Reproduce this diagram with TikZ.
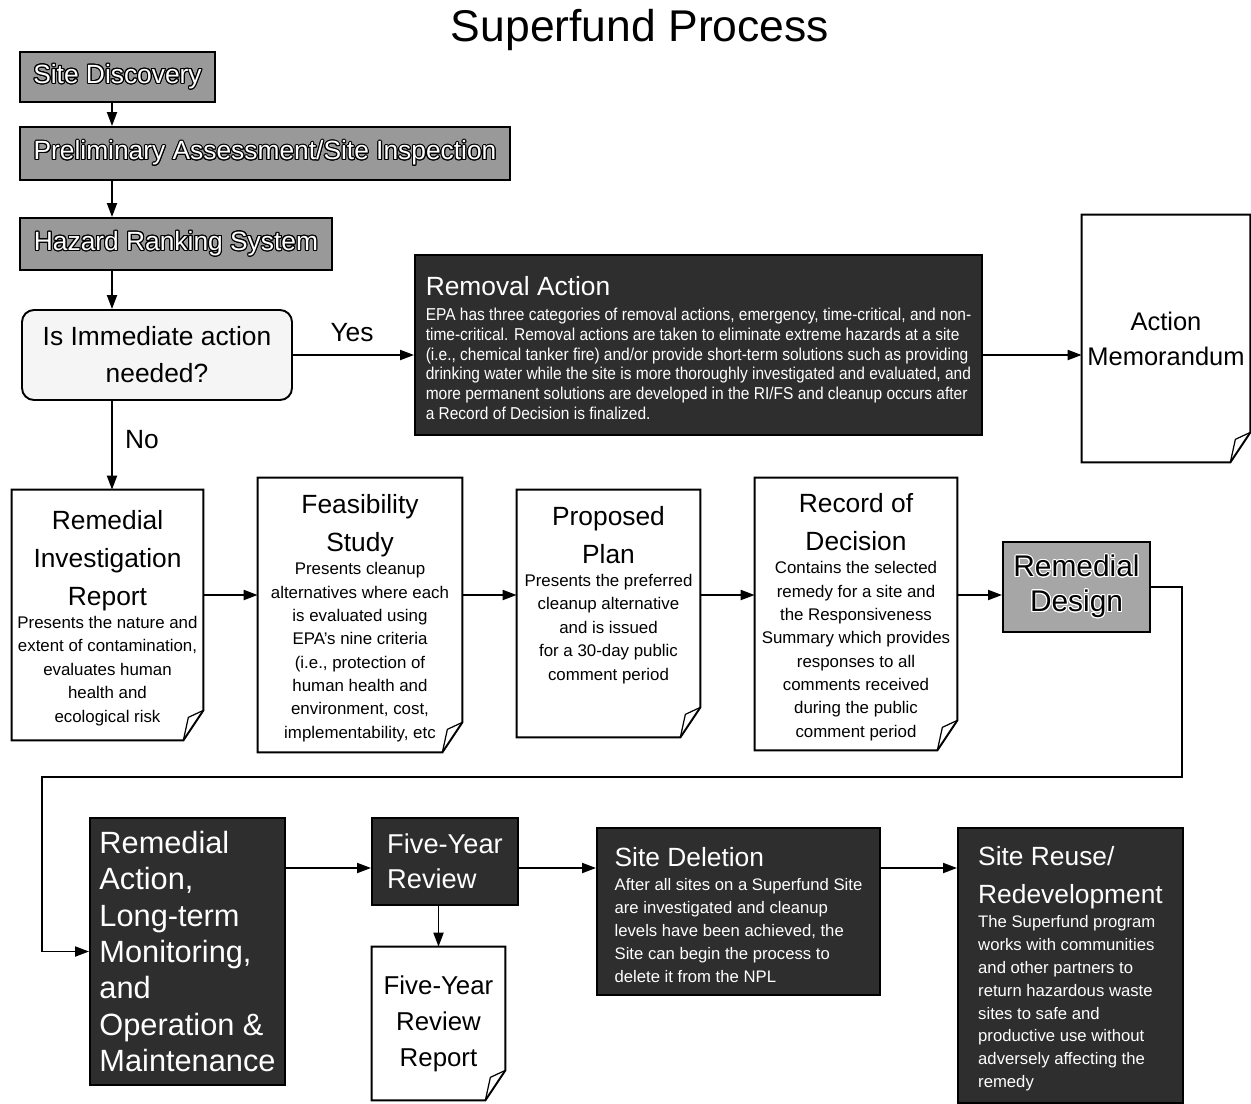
\documentclass[tikz,border=0pt]{standalone}
\usepackage{fontspec}
\setmainfont{Liberation Sans}
\newfontfamily\narrowfont[FakeStretch=0.9]{Liberation Sans}
\usepackage{tikz}
\usetikzlibrary{calc}
\usetikzlibrary{arrows.meta}
\usepackage{contour}
\contourlength{0.6pt}

\newlength{\px}
\setlength{\px}{0.02cm}

\newcommand{\hugesize}{\fontsize{25.3}{30}\selectfont}
\newcommand{\headsize}{\fontsize{15}{20.5}\selectfont}
\newcommand{\docsize}{\fontsize{9.6}{13.3}\selectfont}
\newcommand{\wout}[1]{\contour{black}{#1}}
\newcommand{\bout}[1]{\contour{white}{#1}}
\newcommand{\hd}[1]{{\normalfont\headsize\strut #1}}

% sheet of paper with a folded corner round a node
\newcommand{\docpaper}[1]{%
  \draw[thickline] (#1.north west) -- (#1.north east) -- ($(#1.south east)+(0,-30)$)
    -- ($(#1.south east)+(-20,0)$) -- (#1.south west) -- cycle;
  \draw[line width=0.7pt] ($(#1.south east)+(0,-30)$) -- ($(#1.south east)+(-15,-23)$)
    -- ($(#1.south east)+(-20,0)$);
}

\tikzset{
  thickline/.style={line width=1.1pt},
  flow/.style={thickline, -{Triangle[length=0.28cm,width=0.2cm]}},
  boxdim/.style 2 args={minimum width=#1\px, minimum height=#2\px},
  greybox/.style={draw, thickline, fill=black!40, text=white, inner sep=0pt, font=\headsize},
  darkbox/.style={draw, thickline, fill=black!82, text=white, inner sep=0pt},
  decision/.style={draw, thickline, rounded corners=12\px, fill=black!4, inner sep=0pt,
    align=center, font=\fontsize{15}{21}\selectfont},
  paper/.style={inner sep=0pt, align=center, font=\docsize},
  yesno/.style={font=\headsize},
}

\begin{document}
\begin{tikzpicture}
    [x=0.02cm,y=-0.02cm]

    \useasboundingbox (0,0) rectangle (1251,1103);

    \coordinate (spine) at (112,   0);
    \coordinate (row2)  at (  0, 595);
    \coordinate (row3)  at (  0, 868);
    \coordinate (loopa) at (1182, 777);
    \coordinate (loopb) at (  42, 777);

    \node[font=\hugesize] (title) at (640,30) {Superfund Process};

    % site screening
    \node[greybox, boxdim={195}{50}] (disc) at (117.5,77) {\wout{Site Discovery}};
    \node[greybox, boxdim={490}{53}] (pasi) at (265,153.5) {\wout{Preliminary Assessment/Site Inspection}};
    \node[greybox, boxdim={312}{52}] (hrs) at (176,244) {\wout{Hazard Ranking System}};
    \node[decision, boxdim={270}{90}] (dec) at (157,355) {Is Immediate action\\needed?};
    \node[yesno] (yes) at (352,333) {Yes};
    \node[yesno] (no) at (142,440) {No};

    \node[darkbox, boxdim={567}{180}, align=left, font=\narrowfont\fontsize{9.8}{11.3}\selectfont] (removal) at (698.5,345)
      {\hd{Removal Action}\\
       EPA has three categories of removal actions, emergency, time-critical, and non-\\
       time-critical. Removal actions are taken to eliminate extreme hazards at a site\\
       (i.e., chemical tanker fire) and/or provide short-term solutions such as providing\\
       drinking water while the site is more thoroughly investigated and evaluated, and\\
       more permanent solutions are developed in the RI/FS and cleanup occurs after\\
       a Record of Decision is finalized.};
    \node[paper, boxdim={168}{247}, font=\fontsize{14.5}{19.8}\selectfont] (memo) at (1166,338.5) {Action\\Memorandum};
    \docpaper{memo}

    % remedial documents
    \node[paper, boxdim={191}{250}] (ri) at (107.5,615)
      {\hd{Remedial}\\\hd{Investigation}\\\hd{Report}\\Presents the nature and\\extent of contamination,\\
       evaluates human\\health and\\ecological risk};
    \docpaper{ri}
    \node[paper, boxdim={204}{274}] (fs) at (360,615)
      {\hd{Feasibility}\\\hd{Study}\\Presents cleanup\\alternatives where each\\is evaluated using\\
       EPA's nine criteria\\(i.e., protection of\\human health and\\environment, cost,\\implementability, etc};
    \docpaper{fs}
    \node[paper, boxdim={183}{247}] (pp) at (608.5,613.5)
      {\hd{Proposed}\\\hd{Plan}\\Presents the preferred\\cleanup alternative\\and is issued\\
       for a 30-day public\\comment period\\~\\~};
    \docpaper{pp}
    \node[paper, boxdim={202}{272}] (rod) at (856,614)
      {\hd{Record of}\\\hd{Decision}\\Contains the selected\\remedy for a site and\\the Responsiveness\\
       Summary which provides\\responses to all\\comments received\\during the public\\comment period};
    \docpaper{rod}
    \node[draw, thickline, fill=black!35, inner sep=0pt, boxdim={147}{90}, align=center,
      font=\fontsize{17}{19.8}\selectfont] (rd) at (1076.5,587) {\bout{Remedial}\\\bout{Design}};

    % cleanup and after
    \node[darkbox, boxdim={195}{267}, align=left, font=\fontsize{17.5}{20.7}\selectfont] (ra) at (187.5,951.5)
      {Remedial\\Action,\\Long-term\\Monitoring,\\and\\Operation \&\\Maintenance};
    \node[darkbox, boxdim={146}{87}, align=left, font=\fontsize{15.5}{19.8}\selectfont] (fyr) at (445,861.5)
      {Five-Year\\Review};
    \node[paper, boxdim={133}{153}, font=\fontsize{14.7}{20.5}\selectfont] (fyrr) at (438.5,1023.5)
      {Five-Year\\Review\\Report};
    \docpaper{fyrr}
    \node[darkbox, boxdim={283}{167}, align=left, font=\fontsize{9.5}{13}\selectfont] (sd) at (738.5,911.5)
      {\hd{Site Deletion}\\After all sites on a Superfund Site\\are investigated and cleanup\\
       levels have been achieved, the\\Site can begin the process to\\delete it from the NPL};
    \node[darkbox, boxdim={225}{275}, align=left, font=\fontsize{9.5}{13}\selectfont] (sr) at (1070.5,965.5)
      {\hd{Site Reuse/}\\\hd{Redevelopment}\\The Superfund program\\works with communities\\
       and other partners to\\return hazardous waste\\sites to safe and\\productive use without\\
       adversely affecting the\\remedy};

    % connectors
    \draw[flow] (disc.south -| spine) -- (pasi.north -| spine);
    \draw[flow] (pasi.south -| spine) -- (hrs.north -| spine);
    \draw[flow] (hrs.south -| spine) -- (dec.north -| spine);
    \draw[flow] (dec.south -| spine) -- (ri.north -| spine);
    \draw[flow] (dec.east) -- (dec.east -| removal.west);
    \draw[flow] (removal.east |- dec.east) -- (dec.east -| memo.west);
    \draw[flow] (ri.east |- row2) -- (fs.west |- row2);
    \draw[flow] (fs.east |- row2) -- (pp.west |- row2);
    \draw[flow] (pp.east |- row2) -- (rod.west |- row2);
    \draw[flow] (rod.east |- row2) -- (rd.west |- row2);
    \draw[flow] (rd.east) -| (loopa) -- (loopb) |- (ra.west);
    \draw[flow] (ra.east |- row3) -- (fyr.west |- row3);
    \draw[flow] (fyrr.north |- fyr.south) -- (fyrr.north);
    \draw[flow] (fyr.east |- row3) -- (sd.west |- row3);
    \draw[flow] (sd.east |- row3) -- (sr.west |- row3);
\end{tikzpicture}
\end{document}
